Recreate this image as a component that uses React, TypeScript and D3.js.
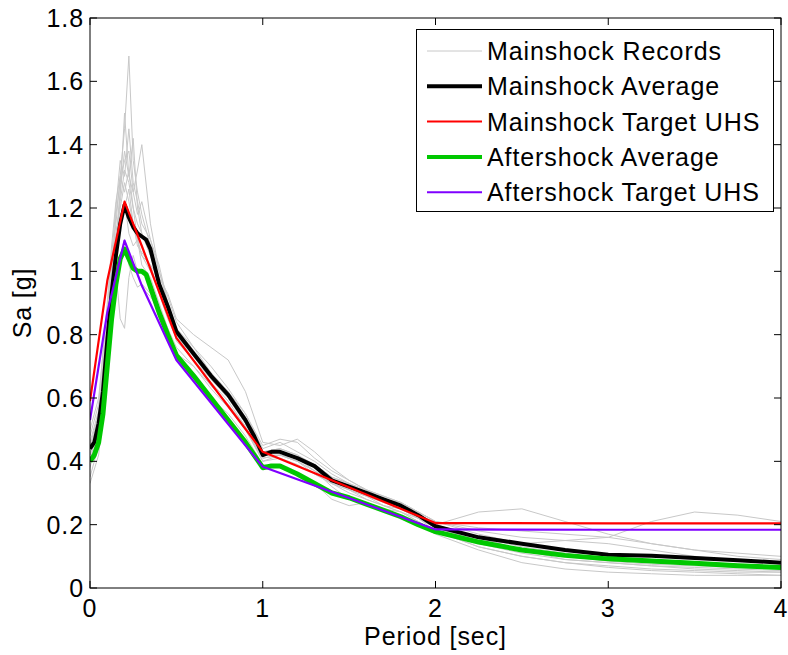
import React, { useEffect, useRef } from "react";
import * as d3 from "d3";

// periods (sec) used by the individual mainshock records
const recordPeriods = [0, 0.05, 0.1, 0.125, 0.15, 0.175, 0.2, 0.225, 0.25, 0.275, 0.3, 0.35, 0.4, 0.45, 0.5, 0.6, 0.7, 0.8, 0.9, 1.0, 1.1, 1.2, 1.3, 1.4, 1.5, 1.6, 1.7, 1.8, 1.9, 2.0, 2.25, 2.5, 2.75, 3.0, 3.25, 3.5, 3.75, 4.0];

const mainshockRecords = [
  [0.42, 0.55, 0.85, 1.02, 1.15, 1.30, 1.45, 1.68, 1.35, 1.25, 1.18, 1.08, 0.95, 0.86, 0.80, 0.72, 0.66, 0.60, 0.52, 0.43, 0.44, 0.42, 0.38, 0.34, 0.31, 0.29, 0.27, 0.25, 0.22, 0.19, 0.15, 0.12, 0.10, 0.085, 0.075, 0.07, 0.065, 0.06],
  [0.38, 0.50, 0.80, 0.95, 1.10, 1.25, 1.50, 1.30, 1.25, 1.32, 1.40, 1.15, 1.00, 0.92, 0.84, 0.76, 0.68, 0.62, 0.55, 0.44, 0.46, 0.43, 0.40, 0.36, 0.33, 0.30, 0.28, 0.27, 0.24, 0.21, 0.17, 0.14, 0.12, 0.10, 0.09, 0.08, 0.07, 0.065],
  [0.35, 0.45, 0.70, 0.90, 1.00, 0.85, 0.82, 0.98, 1.05, 1.00, 0.95, 0.92, 0.88, 0.82, 0.76, 0.70, 0.64, 0.58, 0.50, 0.40, 0.41, 0.39, 0.36, 0.33, 0.30, 0.28, 0.26, 0.24, 0.22, 0.18, 0.13, 0.10, 0.08, 0.065, 0.055, 0.05, 0.045, 0.04],
  [0.46, 0.56, 0.82, 0.98, 1.12, 1.20, 1.28, 1.22, 1.15, 1.10, 1.05, 1.02, 0.98, 0.93, 0.85, 0.80, 0.76, 0.72, 0.62, 0.46, 0.45, 0.47, 0.43, 0.38, 0.34, 0.31, 0.29, 0.27, 0.24, 0.21, 0.19, 0.18, 0.17, 0.16, 0.14, 0.12, 0.10, 0.09],
  [0.40, 0.52, 0.75, 0.92, 1.08, 1.25, 1.38, 1.30, 1.42, 1.20, 1.12, 1.05, 0.96, 0.88, 0.80, 0.73, 0.66, 0.60, 0.52, 0.42, 0.43, 0.41, 0.37, 0.33, 0.31, 0.29, 0.26, 0.25, 0.22, 0.20, 0.24, 0.25, 0.21, 0.17, 0.14, 0.12, 0.11, 0.10],
  [0.50, 0.60, 0.88, 1.05, 1.20, 1.35, 1.30, 1.45, 1.28, 1.22, 1.15, 1.10, 1.02, 0.90, 0.82, 0.75, 0.68, 0.62, 0.54, 0.43, 0.44, 0.42, 0.39, 0.35, 0.33, 0.31, 0.28, 0.26, 0.23, 0.20, 0.16, 0.13, 0.11, 0.09, 0.08, 0.075, 0.07, 0.065],
  [0.33, 0.42, 0.68, 0.82, 0.95, 1.05, 1.10, 1.02, 0.98, 0.95, 0.96, 0.93, 0.86, 0.78, 0.72, 0.66, 0.60, 0.55, 0.48, 0.39, 0.38, 0.36, 0.33, 0.28, 0.26, 0.27, 0.25, 0.23, 0.20, 0.17, 0.12, 0.08, 0.06, 0.05, 0.045, 0.04, 0.04, 0.04],
  [0.45, 0.55, 0.80, 1.00, 1.18, 1.28, 1.35, 1.38, 1.25, 1.18, 1.22, 1.10, 1.00, 0.90, 0.78, 0.72, 0.65, 0.59, 0.51, 0.40, 0.42, 0.40, 0.37, 0.34, 0.32, 0.30, 0.28, 0.25, 0.22, 0.19, 0.15, 0.14, 0.15, 0.16, 0.21, 0.24, 0.23, 0.21],
  [0.48, 0.58, 0.90, 1.08, 1.22, 1.30, 1.25, 1.32, 1.20, 1.15, 1.12, 1.05, 0.97, 0.88, 0.82, 0.76, 0.70, 0.63, 0.55, 0.45, 0.47, 0.46, 0.41, 0.37, 0.34, 0.31, 0.29, 0.27, 0.24, 0.21, 0.18, 0.16, 0.15, 0.14, 0.12, 0.10, 0.085, 0.08],
  [0.42, 0.50, 0.72, 0.88, 1.02, 1.15, 1.22, 1.12, 1.08, 1.10, 1.02, 0.98, 0.90, 0.82, 0.74, 0.70, 0.63, 0.57, 0.50, 0.41, 0.42, 0.40, 0.37, 0.32, 0.28, 0.26, 0.25, 0.24, 0.21, 0.18, 0.13, 0.10, 0.08, 0.07, 0.06, 0.055, 0.05, 0.05],
  [0.44, 0.54, 0.78, 0.95, 1.10, 1.22, 1.32, 1.28, 1.20, 1.10, 1.05, 1.00, 0.94, 0.87, 0.80, 0.74, 0.66, 0.60, 0.52, 0.42, 0.42, 0.41, 0.39, 0.35, 0.33, 0.30, 0.28, 0.26, 0.23, 0.20, 0.16, 0.12, 0.09, 0.08, 0.07, 0.065, 0.06, 0.055],
  [0.40, 0.48, 0.76, 0.90, 1.05, 1.18, 1.20, 1.26, 1.15, 1.08, 1.06, 1.02, 0.93, 0.85, 0.79, 0.72, 0.64, 0.58, 0.51, 0.41, 0.42, 0.40, 0.36, 0.33, 0.31, 0.28, 0.26, 0.24, 0.21, 0.18, 0.14, 0.11, 0.09, 0.08, 0.07, 0.06, 0.055, 0.05],
];

// periods for the two averages
const avgPeriods = [0, 0.025, 0.05, 0.075, 0.1, 0.125, 0.15, 0.175, 0.2, 0.225, 0.25, 0.275, 0.3, 0.325, 0.35, 0.4, 0.45, 0.5, 0.6, 0.7, 0.8, 0.9, 0.95, 1.0, 1.05, 1.1, 1.2, 1.3, 1.4, 1.5, 1.6, 1.7, 1.8, 1.9, 2.0, 2.25, 2.5, 2.75, 3.0, 3.25, 3.5, 3.75, 4.0];
const mainshockAverage = [0.44, 0.46, 0.52, 0.62, 0.78, 0.93, 1.05, 1.15, 1.21, 1.17, 1.14, 1.12, 1.11, 1.10, 1.07, 0.96, 0.89, 0.81, 0.74, 0.67, 0.61, 0.53, 0.48, 0.42, 0.43, 0.43, 0.41, 0.385, 0.34, 0.32, 0.30, 0.28, 0.26, 0.23, 0.195, 0.16, 0.14, 0.12, 0.105, 0.102, 0.095, 0.088, 0.08];
const aftershockAverage = [0.40, 0.42, 0.46, 0.55, 0.70, 0.85, 0.96, 1.04, 1.07, 1.04, 1.01, 1.0, 1.0, 0.99, 0.95, 0.87, 0.80, 0.735, 0.67, 0.60, 0.53, 0.46, 0.42, 0.38, 0.385, 0.385, 0.36, 0.33, 0.30, 0.285, 0.265, 0.245, 0.225, 0.20, 0.178, 0.145, 0.12, 0.103, 0.092, 0.085, 0.078, 0.07, 0.065];

// uniform hazard spectra
const uhsPeriods = [0, 0.1, 0.2, 0.3, 0.5, 1.0, 2.0, 3.0, 4.0];
const mainshockUHS = [0.59, 0.97, 1.22, 1.08, 0.79, 0.43, 0.205, 0.204, 0.204];
const aftershockUHS = [0.53, 0.87, 1.097, 0.955, 0.72, 0.383, 0.185, 0.184, 0.184];

const xTicks = [0, 1, 2, 3, 4];
const yTicks = [0, 0.2, 0.4, 0.6, 0.8, 1, 1.2, 1.4, 1.6, 1.8];

const legendItems = [
  { label: "Mainshock Records", color: "#c8c8c8", width: 1 },
  { label: "Mainshock Average", color: "#000000", width: 4 },
  { label: "Mainshock Target UHS", color: "#ff0000", width: 2 },
  { label: "Aftershock Average", color: "#00c800", width: 4 },
  { label: "Aftershock Target UHS", color: "#7f00ff", width: 2 },
];

const FONT = "'Liberation Sans', Arial, Helvetica, sans-serif";

function App() {
  const svgRef = useRef<SVGSVGElement | null>(null);

  useEffect(() => {
    document.body.style.margin = "0";
    const width = 788;
    const height = 655;
    const margin = { top: 18, right: 7, bottom: 67, left: 90 };

    const svg = d3.select(svgRef.current);
    svg.selectAll("*").remove();
    svg.attr("width", width).attr("height", height);

    svg.append("rect").attr("width", width).attr("height", height).attr("fill", "#fff");

    const x = d3.scaleLinear().domain([0, 4]).range([margin.left, width - margin.right]);
    const y = d3.scaleLinear().domain([0, 1.8]).range([height - margin.bottom, margin.top]);

    const pairs = (ps: number[], vs: number[]) => ps.map((p, i) => [p, vs[i]] as [number, number]);
    const line = d3.line<[number, number]>().x(d => x(d[0])).y(d => y(d[1]));

    svg.append("clipPath").attr("id", "plotclip")
      .append("rect")
      .attr("x", x(0)).attr("y", y(1.8))
      .attr("width", x(4) - x(0)).attr("height", y(0) - y(1.8));

    const plot = svg.append("g").attr("clip-path", "url(#plotclip)");

    mainshockRecords.forEach(r => {
      plot.append("path")
        .attr("d", line(pairs(recordPeriods, r)))
        .attr("fill", "none")
        .attr("stroke", "#c8c8c8")
        .attr("stroke-width", 1);
    });

    const series = [
      { ps: avgPeriods, vs: mainshockAverage, color: "#000000", w: 4 },
      { ps: uhsPeriods, vs: mainshockUHS, color: "#ff0000", w: 2.2 },
      { ps: avgPeriods, vs: aftershockAverage, color: "#00c800", w: 5 },
      { ps: uhsPeriods, vs: aftershockUHS, color: "#7f00ff", w: 2.2 },
    ];
    series.forEach(s => {
      plot.append("path")
        .attr("d", line(pairs(s.ps, s.vs)))
        .attr("fill", "none")
        .attr("stroke", s.color)
        .attr("stroke-width", s.w)
        .attr("stroke-linejoin", "round");
    });

    // axes box
    const x0 = x(0), x1 = x(4), y0 = y(0), y1 = y(1.8);
    svg.append("rect")
      .attr("x", x0).attr("y", y1)
      .attr("width", x1 - x0).attr("height", y0 - y1)
      .attr("fill", "none").attr("stroke", "#000").attr("stroke-width", 1);

    const tickLen = 7;
    const g = svg.append("g").attr("stroke", "#000").attr("stroke-width", 1);
    xTicks.forEach(t => {
      g.append("line").attr("x1", x(t)).attr("x2", x(t)).attr("y1", y0).attr("y2", y0 - tickLen);
      g.append("line").attr("x1", x(t)).attr("x2", x(t)).attr("y1", y1).attr("y2", y1 + tickLen);
    });
    yTicks.forEach(t => {
      g.append("line").attr("x1", x0).attr("x2", x0 + tickLen).attr("y1", y(t)).attr("y2", y(t));
      g.append("line").attr("x1", x1).attr("x2", x1 - tickLen).attr("y1", y(t)).attr("y2", y(t));
    });

    const fmt = (v: number) => d3.format("~g")(v);
    const txt = (sel: any) => sel.style("font-family", FONT).style("font-size", "25px").style("letter-spacing", "0.9px");

    svg.append("g").selectAll("text").data(xTicks).enter().append("text")
      .attr("x", d => x(d)).attr("y", 617)
      .attr("text-anchor", "middle")
      .call(txt)
      .text(d => fmt(d));

    svg.append("g").selectAll("text").data(yTicks).enter().append("text")
      .attr("x", 84).attr("y", d => y(d) + 9)
      .attr("text-anchor", "end")
      .call(txt)
      .text(d => fmt(d));

    svg.append("text")
      .attr("x", (x0 + x1) / 2).attr("y", 645)
      .attr("text-anchor", "middle")
      .call(txt)
      .text("Period [sec]");

    svg.append("text")
      .attr("transform", `translate(31, ${(y0 + y1) / 2}) rotate(-90)`)
      .attr("text-anchor", "middle")
      .call(txt)
      .text("Sa [g]");

    // legend
    const leg = svg.append("g");
    leg.append("rect")
      .attr("x", 416.5).attr("y", 29.5)
      .attr("width", 357).attr("height", 182)
      .attr("fill", "#fff").attr("stroke", "#000").attr("stroke-width", 1);
    legendItems.forEach((item, i) => {
      const cy = 51 + i * 35.3;
      leg.append("line")
        .attr("x1", 427).attr("x2", 482).attr("y1", cy).attr("y2", cy)
        .attr("stroke", item.color).attr("stroke-width", item.width);
      leg.append("text")
        .attr("x", 487).attr("y", cy + 9)
        .call(txt)
        .text(item.label);
    });
  }, []);

  return <svg ref={svgRef} style={{ display: "block" }}></svg>;
}

export default App;
